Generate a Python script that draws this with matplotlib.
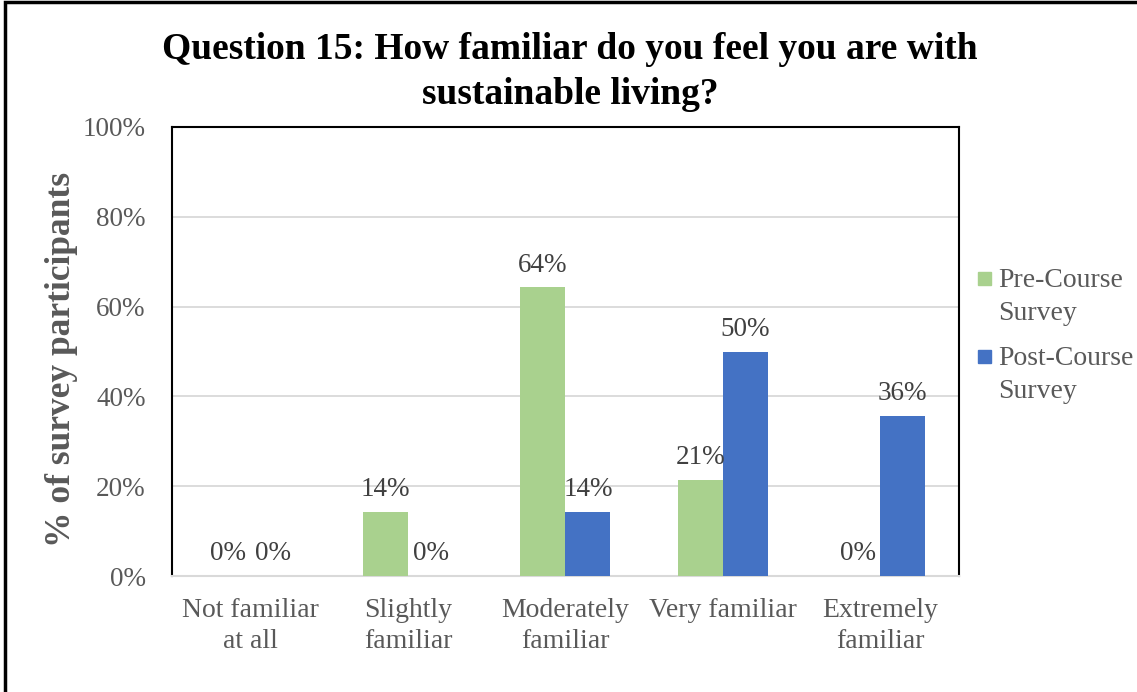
import numpy as np
import matplotlib.pyplot as plt
from matplotlib.patches import Rectangle

plt.rcParams['font.family'] = ['Liberation Serif', 'DejaVu Serif']

categories = ['Not familiar\nat all', 'Slightly\nfamiliar', 'Moderately\nfamiliar',
              'Very familiar', 'Extremely\nfamiliar']
pre_course = [0, 14.29, 64.29, 21.43, 0]    # % of participants
post_course = [0, 0, 14.29, 50.0, 35.71]
series_names = ['Pre-Course\nSurvey', 'Post-Course\nSurvey']

green = '#a9d18e'
blue = '#4472c4'
tick_col = '#595959'
lab_col = '#404040'

fig = plt.figure(figsize=(11.37, 6.92), dpi=100)
ax = fig.add_axes([0.1513, 0.1676, 0.6921, 0.6489])

x = np.arange(len(categories))
w = 0.286
b1 = ax.bar(x - w/2, pre_course, w, color=green, zorder=3)
b2 = ax.bar(x + w/2, post_course, w, color=blue, zorder=3)

# value labels above each bar
for bars, vals in ((b1, pre_course), (b2, post_course)):
    for r, v in zip(bars, vals):
        ax.annotate('%.0f%%' % v, (r.get_x() + r.get_width()/2, v),
                    xytext=(0, 7), textcoords='offset points',
                    ha='center', va='bottom', fontsize=19.5, color=lab_col)

ax.set_xlim(-0.5, len(categories) - 0.5)
ax.set_ylim(0, 100)
ax.set_yticks(np.arange(0, 101, 20))
ax.set_yticklabels(['%d%%' % t for t in range(0, 101, 20)])
ax.set_xticks(x)
ax.set_xticklabels(categories, linespacing=1.32, fontsize=20)
ax.tick_params(axis='both', length=0, colors=tick_col)
ax.tick_params(axis='y', pad=19, labelsize=19.5)
ax.tick_params(axis='x', pad=16)
ax.yaxis.grid(True, color='#d9d9d9', lw=1.3, zorder=0)

for s in ('left', 'top', 'right'):
    ax.spines[s].set_color('black')
    ax.spines[s].set_linewidth(1.5)
ax.spines['bottom'].set_color('#d9d9d9')
ax.spines['bottom'].set_linewidth(1.5)

fig.text(62/1137, 1 - 359/692, '% of survey participants', rotation=90,
         ha='center', va='center', fontsize=25.5, fontweight='bold', color=tick_col)

fig.text(570/1137, 1 - 72/692,
         'Question 15: How familiar do you feel you are with\nsustainable living?',
         ha='center', va='center', fontsize=27, fontweight='bold', linespacing=1.37)

# legend: colour square beside the first line of each two-line name
leg_y = [1 - 266/692, 1 - 344/692]
for col, name, yy in zip((green, blue), series_names, leg_y):
    fig.add_artist(Rectangle((978/1137, yy - 19/692), 13/1137, 13/692,
                             transform=fig.transFigure, color=col))
    fig.text(998/1137, yy - 2/692, name, ha='left', va='top', fontsize=20,
             color=tick_col, linespacing=1.4)

# outer chart frame
fig.add_artist(Rectangle((5/1137, -0.1), 1.2, 1 - 2/692 + 0.1, transform=fig.transFigure,
                         fill=False, ec='black', lw=2.5))

plt.savefig('out.png', dpi=100)
